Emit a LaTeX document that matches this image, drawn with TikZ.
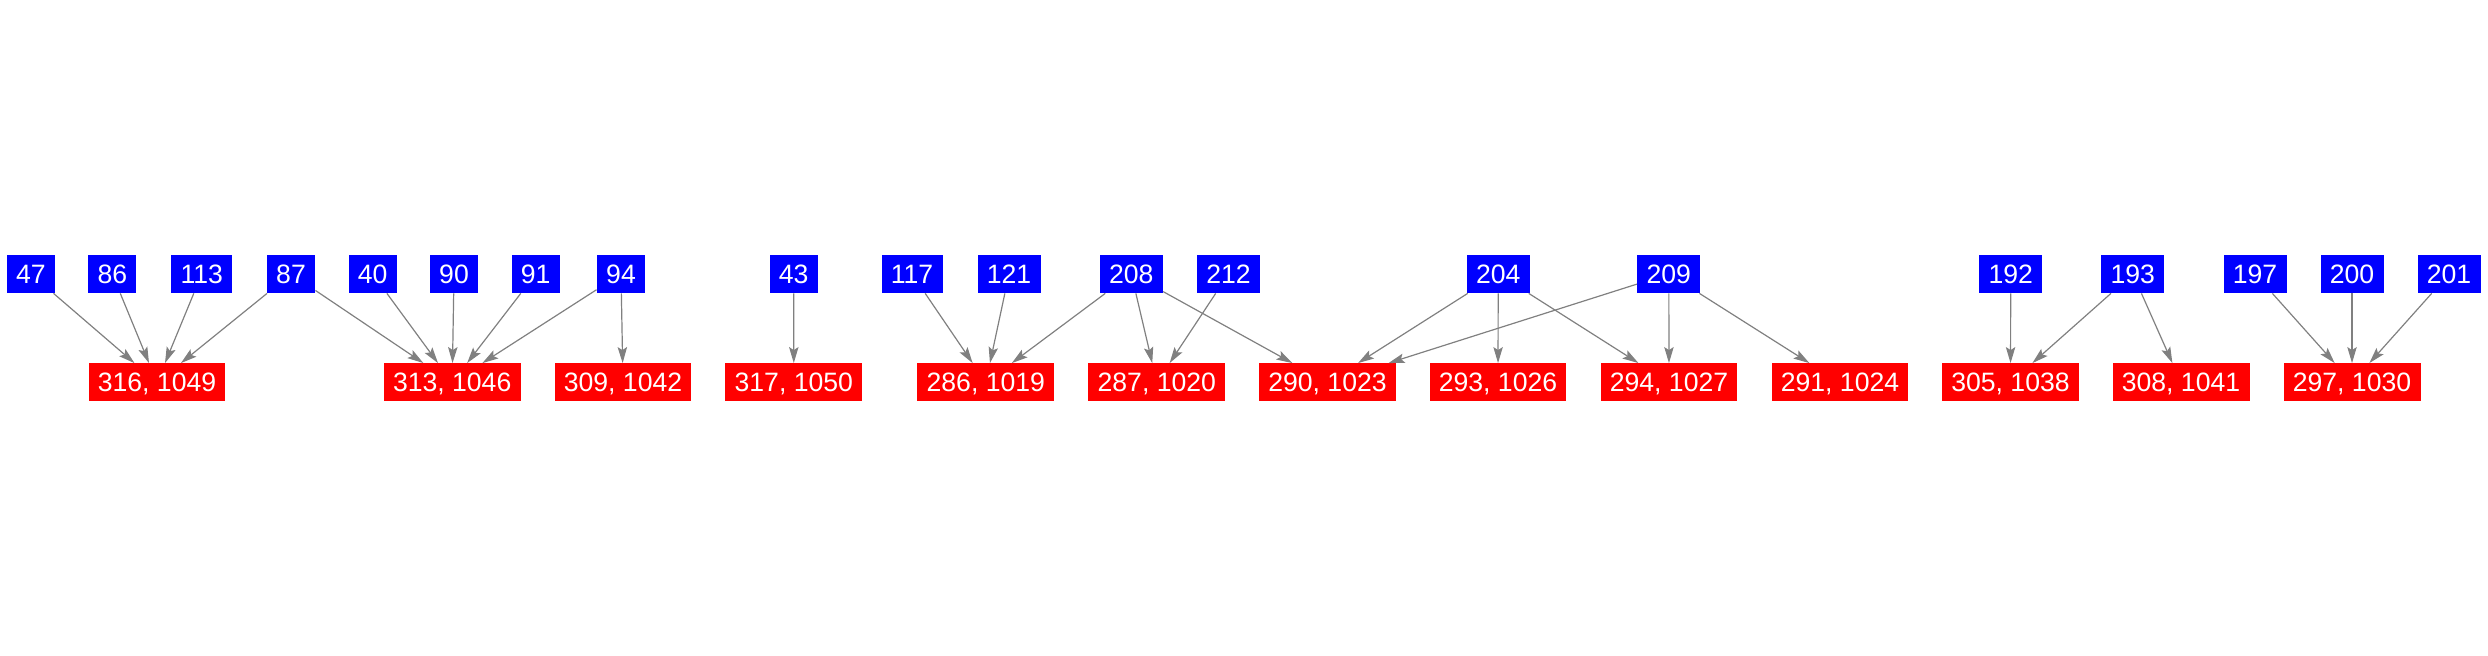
\documentclass[tikz,border=0pt]{standalone}
\usepackage{fontspec}
\setmainfont{Liberation Sans}
\usepackage{xcolor}
\usepackage{tikz}
\usetikzlibrary{arrows.meta}

\begin{document}
\begin{tikzpicture}[
  x=0.5pt, y=-0.5pt,
  src/.style={fill=blue, text=white, inner xsep=4.65pt, inner ysep=0pt, minimum height=19pt, text depth=0pt, font=\fontsize{13.3}{16}\selectfont},
  dst/.style={fill=red, text=white, inner xsep=4.65pt, inner ysep=0pt, minimum height=19pt, text depth=0pt, font=\fontsize{13.3}{16}\selectfont},
  arr/.style={-{Stealth[length=8pt, width=4.7pt, inset=1.5pt]}, line width=0.6pt, gray}
]
  \useasboundingbox (0,0) rectangle (2488,656);

  % Source row
  \node[src] (b47)  at (31, 274)     {47};
  \node[src] (b86)  at (112.3, 274)  {86};
  \node[src] (b113) at (201.8, 274)  {113};
  \node[src] (b87)  at (291, 274)    {87};
  \node[src] (b40)  at (372.7, 274)  {40};
  \node[src] (b90)  at (454, 274)    {90};
  \node[src] (b91)  at (535.7, 274)  {91};
  \node[src] (b94)  at (621, 274)    {94};
  \node[src] (b43)  at (793.7, 274)  {43};
  \node[src] (b117) at (912, 274)    {117};
  \node[src] (b121) at (1009, 274)   {121};
  \node[src] (b208) at (1131.3, 274) {208};
  \node[src] (b212) at (1228.5, 274) {212};
  \node[src] (b204) at (1498.2, 274) {204};
  \node[src] (b209) at (1668.8, 274) {209};
  \node[src] (b192) at (2010.7, 274) {192};
  \node[src] (b193) at (2132.8, 274) {193};
  \node[src] (b197) at (2255, 274)   {197};
  \node[src] (b200) at (2352, 274)   {200};
  \node[src] (b201) at (2449, 274)   {201};

  % Target row
  \node[dst] (r316) at (157, 382.5)    {316, 1049};
  \node[dst] (r313) at (452.2, 382.5)  {313, 1046};
  \node[dst] (r309) at (623, 382.5)    {309, 1042};
  \node[dst] (r317) at (793.8, 382.5)  {317, 1050};
  \node[dst] (r286) at (985.8, 382.5)  {286, 1019};
  \node[dst] (r287) at (1156.8, 382.5) {287, 1020};
  \node[dst] (r290) at (1327.5, 382.5) {290, 1023};
  \node[dst] (r293) at (1498, 382.5)   {293, 1026};
  \node[dst] (r294) at (1669, 382.5)   {294, 1027};
  \node[dst] (r291) at (1840, 382.5)   {291, 1024};
  \node[dst] (r305) at (2010.5, 382.5) {305, 1038};
  \node[dst] (r308) at (2181, 382.5)   {308, 1041};
  \node[dst] (r297) at (2352, 382.5)   {297, 1030};

  % Edges
  \draw[arr] (b47) -- (r316);
  \draw[arr] (b86) -- (r316);
  \draw[arr] (b113) -- (r316);
  \draw[arr] (b87) -- (r316);
  \draw[arr] (b87) -- (r313);
  \draw[arr] (b40) -- (r313);
  \draw[arr] (b90) -- (r313);
  \draw[arr] (b91) -- (r313);
  \draw[arr] (b94) -- (r313);
  \draw[arr] (b94) -- (r309);
  \draw[arr] (b43) -- (r317);
  \draw[arr] (b117) -- (r286);
  \draw[arr] (b121) -- (r286);
  \draw[arr] (b208) -- (r286);
  \draw[arr] (b208) -- (r287);
  \draw[arr] (b212) -- (r287);
  \draw[arr] (b208) -- (r290);
  \draw[arr] (b204) -- (r290);
  \draw[arr] (b209) -- (r290);
  \draw[arr] (b204) -- (r293);
  \draw[arr] (b204) -- (r294);
  \draw[arr] (b209) -- (r294);
  \draw[arr] (b209) -- (r291);
  \draw[arr] (b192) -- (r305);
  \draw[arr] (b193) -- (r305);
  \draw[arr] (b193) -- (r308);
  \draw[arr] (b197) -- (r297);
  \draw[arr] (b200) -- (r297);
  \draw[arr] (b201) -- (r297);

\end{tikzpicture}
\end{document}
